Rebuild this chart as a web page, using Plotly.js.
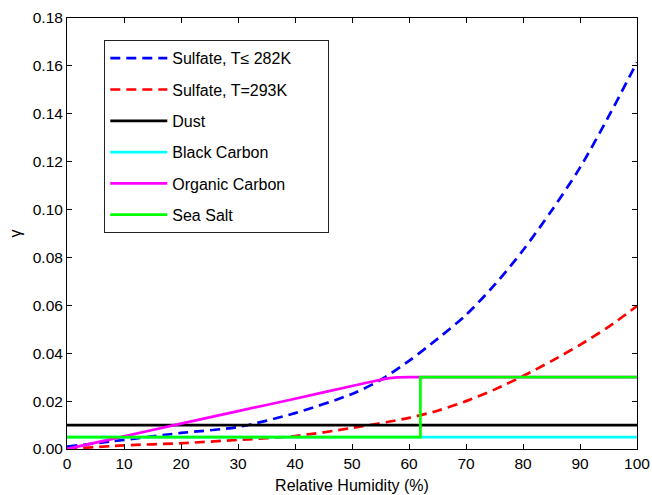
<!DOCTYPE html>
<html>
<head>
<meta charset="utf-8">
<script src="https://cdn.plot.ly/plotly-3.0.1.min.js"></script>
<style>html,body{margin:0;padding:0;background:#fff;}</style>
</head>
<body>
<div id="chart" style="width:652px;height:495px;"></div>
<script>
// Relative humidity (%) sample points
const rhSulfCold = [0, 10, 20, 30, 40, 50, 55, 60, 65, 70, 75, 80, 85, 90, 95, 100];
const gammaSulfCold = [0.001, 0.0038, 0.0067, 0.0092, 0.015, 0.023, 0.0288, 0.0368, 0.046, 0.056, 0.0685, 0.083, 0.0995, 0.1175, 0.1388, 0.1615];

const rhSulfWarm = [0, 10, 20, 30, 40, 50, 60, 65, 70, 75, 80, 85, 90, 95, 100];
const gammaSulfWarm = [0, 0.0015, 0.0024, 0.0038, 0.0054, 0.0088, 0.013, 0.016, 0.020, 0.0248, 0.0305, 0.0367, 0.0435, 0.051, 0.0597];

const rhDust = [0, 100];
const gammaDust = [0.01, 0.01];

const rhBC = [0, 100];
const gammaBC = [0.005, 0.005];

const rhOC = [0, 10, 20, 30, 40, 50, 54, 56, 58, 60, 62, 100];
const gammaOC = [0, 0.0053, 0.0106, 0.0158, 0.021, 0.0263, 0.0284, 0.0294, 0.0299, 0.030, 0.030, 0.030];

const rhSeaSalt = [0, 62, 62, 100];
const gammaSeaSalt = [0.005, 0.005, 0.03, 0.03];

const seriesNames = ["Sulfate, T\u2264 282K", "Sulfate, T=293K", "Dust", "Black Carbon", "Organic Carbon", "Sea Salt"];
const xTickVals = [0, 10, 20, 30, 40, 50, 60, 70, 80, 90, 100];
const yTickVals = [0, 0.02, 0.04, 0.06, 0.08, 0.10, 0.12, 0.14, 0.16, 0.18];

const LW = 2.7;
const pad = '\u00a0'.repeat(7);
const traces = [
  {x: rhSulfCold, y: gammaSulfCold, name: seriesNames[0] + pad, line: {color: '#0000ff', width: LW, dash: '10px,6px', shape: 'spline', smoothing: 0.8}},
  {x: rhSulfWarm, y: gammaSulfWarm, name: seriesNames[1], line: {color: '#ff0000', width: LW, dash: '10px,6px', shape: 'spline', smoothing: 0.8}},
  {x: rhDust, y: gammaDust, name: seriesNames[2], line: {color: '#000000', width: LW}},
  {x: rhBC, y: gammaBC, name: seriesNames[3], line: {color: '#00ffff', width: LW}},
  {x: rhOC, y: gammaOC, name: seriesNames[4], line: {color: '#ff00ff', width: LW, shape: 'spline', smoothing: 0.3}},
  {x: rhSeaSalt, y: gammaSeaSalt, name: seriesNames[5], line: {color: '#00ff00', width: LW}}
].map((t, i) => Object.assign({type: 'scatter', mode: 'lines', legendgroup: 'g' + i}, t));

const axisCommon = {
  showline: true, linecolor: '#000', linewidth: 1, mirror: 'ticks',
  ticks: 'inside', ticklen: 5, tickcolor: '#000', showgrid: false, zeroline: false,
  tickfont: {family: 'Liberation Sans, Arial, sans-serif', size: 15.5, color: '#000'}
};

const layout = {
  width: 652, height: 495,
  margin: {l: 67, r: 15, t: 18, b: 46},
  paper_bgcolor: '#fff', plot_bgcolor: '#fff',
  font: {family: 'Liberation Sans, Arial, sans-serif', color: '#000'},
  xaxis: Object.assign({}, axisCommon, {
    range: [0, 100], tickvals: xTickVals, ticktext: xTickVals.map(String),
    title: {text: 'Relative Humidity (%)', font: {size: 16, color: '#000'}, standoff: 9}
  }),
  yaxis: Object.assign({}, axisCommon, {
    range: [0, 0.18], tickvals: yTickVals, ticktext: yTickVals.map(v => v.toFixed(2)),
    title: {text: '\u03b3', font: {size: 16, color: '#000'}, standoff: 7}
  }),
  showlegend: true,
  legend: {
    x: 0.0649, y: 0.949, xanchor: 'left', yanchor: 'top',
    bgcolor: '#fff', bordercolor: '#222', borderwidth: 1.3,
    font: {size: 16, color: '#000', family: 'Liberation Sans, Arial, sans-serif'},
    itemwidth: 57, traceorder: 'grouped', tracegroupgap: 7.5
  }
};

Plotly.newPlot('chart', traces, layout, {displayModeBar: false, staticPlot: true});
</script>
</body>
</html>
